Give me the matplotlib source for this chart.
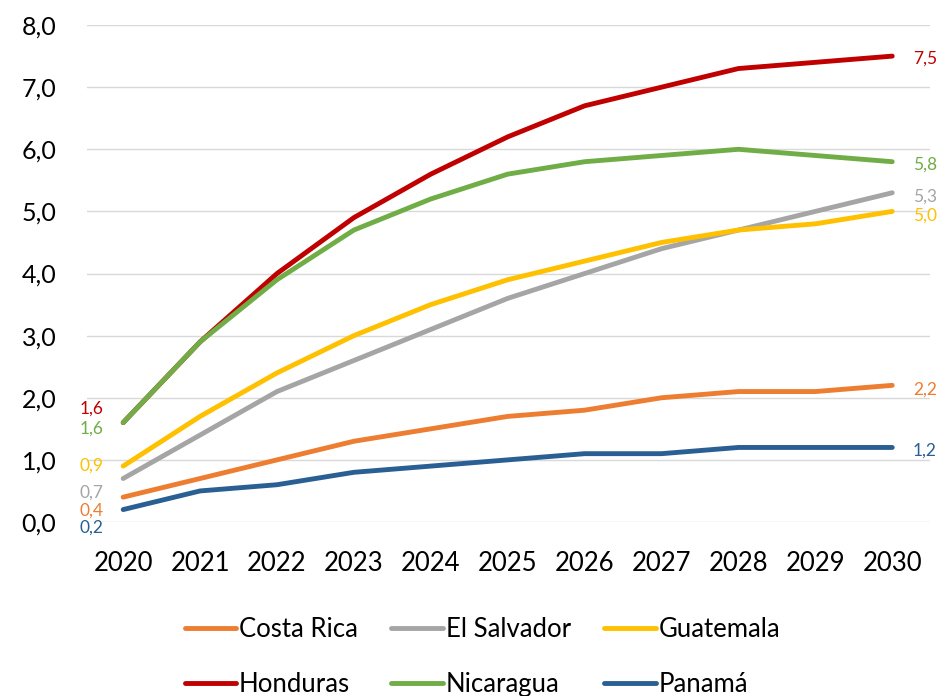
import matplotlib.pyplot as plt

years = [2020, 2021, 2022, 2023, 2024, 2025, 2026, 2027, 2028, 2029, 2030]
countries = ["Costa Rica", "El Salvador", "Guatemala", "Honduras", "Nicaragua", "Panamá"]
costa_rica = [0.4, 0.7, 1.0, 1.3, 1.5, 1.7, 1.8, 2.0, 2.1, 2.1, 2.2]
el_salvador = [0.7, 1.4, 2.1, 2.6, 3.1, 3.6, 4.0, 4.4, 4.7, 5.0, 5.3]
guatemala = [0.9, 1.7, 2.4, 3.0, 3.5, 3.9, 4.2, 4.5, 4.7, 4.8, 5.0]
honduras = [1.6, 2.9, 4.0, 4.9, 5.6, 6.2, 6.7, 7.0, 7.3, 7.4, 7.5]
nicaragua = [1.6, 2.9, 3.9, 4.7, 5.2, 5.6, 5.8, 5.9, 6.0, 5.9, 5.8]
panama = [0.2, 0.5, 0.6, 0.8, 0.9, 1.0, 1.1, 1.1, 1.2, 1.2, 1.2]
series = [costa_rica, el_salvador, guatemala, honduras, nicaragua, panama]

colors = ["#ED7D31", "#A5A5A5", "#FFC000", "#C00000", "#70AD47", "#2A5F93"]
# label offsets in points (start label / end label), shifted like the original to avoid overlaps
start_off = [(-14, -10), (-14, -10), (-14, 0), (-14, 10), (-14, -4), (-14, -13)]
end_off = [(15, -3), (15, -3), (15, -3), (15, -2), (15, -2), (15, -2)]

plt.rcParams["font.family"] = ["Lato", "DejaVu Sans"]

fig = plt.figure(figsize=(9.46, 6.96), dpi=100)
ax = fig.add_axes([0.092, 0.25, 0.891, 0.714])

lines = []
for name, vals, col in zip(countries, series, colors):
    ln, = ax.plot(years, vals, color=col, lw=3.5, solid_capstyle="round", label=name)
    lines.append(ln)

for vals, col, so, eo in zip(series, colors, start_off, end_off):
    ax.annotate(f"{vals[0]:.1f}".replace(".", ","), (years[0], vals[0]),
                xytext=so, textcoords="offset points", ha="right", va="center",
                color=col, fontsize=12.5)
    ax.annotate(f"{vals[-1]:.1f}".replace(".", ","), (years[-1], vals[-1]),
                xytext=eo, textcoords="offset points", ha="left", va="center",
                color=col, fontsize=12.5)

ax.set_xlim(2019.53, 2030.49)
ax.set_ylim(0, 8)
ax.set_yticks(range(0, 9))
ax.set_yticklabels([f"{v:.1f}".replace(".", ",") for v in range(0, 9)])
ax.set_xticks(years)
ax.tick_params(length=0)
ax.tick_params(axis="x", labelsize=18.5, pad=21)
ax.tick_params(axis="y", labelsize=18, pad=22)
ax.grid(axis="y", color="#D9D9D9", lw=1.0)
ax.set_axisbelow(True)
for s in ax.spines.values():
    s.set_visible(False)

# row-major legend order: matplotlib fills columns first
order = [0, 3, 1, 4, 2, 5]
fig.legend([lines[i] for i in order], [countries[i] for i in order],
           loc="center", bbox_to_anchor=(0.51, 0.056), ncol=3, frameon=False,
           fontsize=18.5, handlelength=2.0, handletextpad=0.12, columnspacing=1.3,
           labelspacing=1.15)

fig.savefig("out.png", dpi=100)
